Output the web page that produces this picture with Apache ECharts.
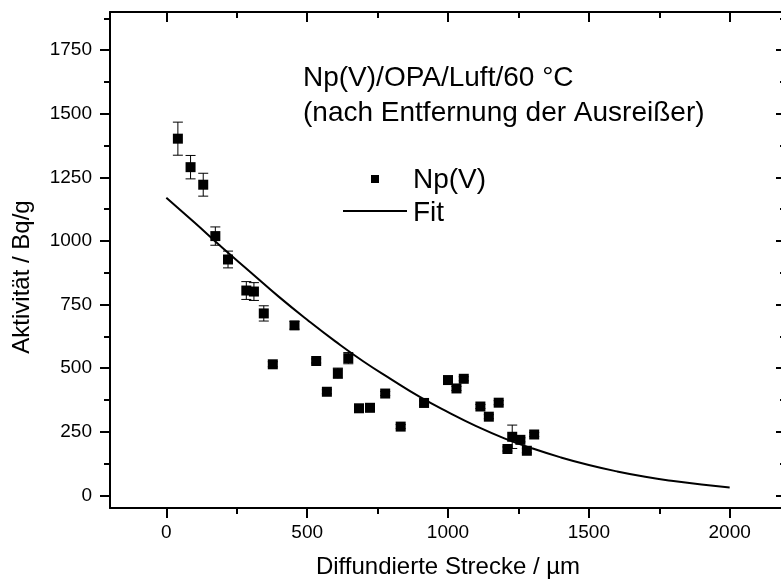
<!DOCTYPE html>
<html><head><meta charset="utf-8">
<script src="https://cdn.jsdelivr.net/npm/echarts@6/dist/echarts.min.js"></script>
<style>html,body{margin:0;padding:0;background:#fff}#c{width:781px;height:586px}</style>
</head><body><div id="c"></div>
<script>
// ---- data ----
const xMajorTicks = [0, 500, 1000, 1500, 2000];
const xMinorTicks = [250, 750, 1250, 1750];
const yMajorTicks = [0, 250, 500, 750, 1000, 1250, 1500, 1750];
const yMinorTicks = [125, 375, 625, 875, 1125, 1375, 1625, 1875];

const pointX   = [41, 86, 131, 174, 219, 284, 311, 346, 378, 455, 532, 570, 609, 646, 684, 723, 777, 832, 915, 1000, 1030, 1056, 1115, 1145, 1180, 1211, 1228, 1257, 1280, 1306];
const pointY   = [1402, 1290, 1221, 1019, 927, 805, 801, 715, 515, 668, 528, 407, 480, 539, 342, 344, 400, 270, 363, 453, 420, 458, 349, 309, 364, 182, 230, 218, 175, 239];
const pointErr = [65, 46, 45, 36, 33, 35, 35, 30, 10, 15, 8, 8, 20, 22, 8, 15, 8, 8, 8, 8, 8, 8, 8, 8, 8, 8, 46, 8, 8, 8];

const fitX = [0, 100, 200, 300, 400, 500, 600, 700, 800, 900, 1000, 1100, 1200, 1300, 1400, 1500, 1600, 1700, 1800, 1900, 2000];
const fitY = [1170, 1072, 972, 876, 780, 690, 605, 526, 455, 387, 327, 272, 224, 184, 149, 119, 94, 73, 56, 42, 31];

const titleLine1 = 'Np(V)/OPA/Luft/60 °C';
const titleLine2 = '(nach Entfernung der Ausreißer)';
const seriesName = 'Np(V)';
const fitName = 'Fit';
const xTitle = 'Diffundierte Strecke / µm';
const yTitle = 'Aktivität / Bq/g';

// ---- chart ----
const FONT = '"Liberation Sans", Arial, sans-serif';
const XMIN = -200, XMAX = 2200, YMIN = -50, YMAX = 1900;

function axis(kind, position, ticks, len, inside, showLabel, showLine) {
  return {
    type: 'value', position: position, min: kind === 'x' ? XMIN : YMIN, max: kind === 'x' ? XMAX : YMAX,
    axisLine: { show: showLine, onZero: false, lineStyle: { color: '#000', width: 2 } },
    axisTick: { show: true, inside: inside, length: len, customValues: ticks, lineStyle: { color: '#000', width: 2 } },
    axisLabel: showLabel ? {
      show: true, customValues: ticks, color: '#000', fontSize: 19, fontFamily: FONT,
      margin: kind === 'x' ? 15 : 18, formatter: function (v) { return String(v); }
    } : { show: false },
    splitLine: { show: false }, minorTick: { show: false }, minorSplitLine: { show: false }
  };
}

const chart = echarts.init(document.getElementById('c'), null, { renderer: 'canvas' });
chart.setOption({
  animation: false,
  backgroundColor: '#fff',
  grid: { left: 110, top: 12, width: 676, height: 496, containLabel: false, outerBoundsMode: 'none' },
  xAxis: [
    axis('x', 'bottom', xMajorTicks, 10, false, true, true),
    axis('x', 'bottom', xMinorTicks, 6, false, false, false),
    axis('x', 'top', xMajorTicks, 10, true, false, true),
    axis('x', 'top', xMinorTicks, 6, true, false, false)
  ],
  yAxis: [
    axis('y', 'left', yMajorTicks, 10, false, true, true),
    axis('y', 'left', yMinorTicks, 6, false, false, false),
    axis('y', 'right', yMajorTicks, 10, true, false, true),
    axis('y', 'right', yMinorTicks, 6, true, false, false)
  ],
  series: [
    {
      name: fitName, type: 'line', xAxisIndex: 0, yAxisIndex: 0,
      data: fitX.map((x, i) => [x, fitY[i]]), smooth: true, showSymbol: false, symbol: 'none',
      lineStyle: { color: '#000', width: 2 }, z: 2, silent: true
    },
    {
      name: 'err', type: 'custom', xAxisIndex: 0, yAxisIndex: 0,
      data: pointX.map((x, i) => [x, pointY[i], pointErr[i]]),
      renderItem: function (params, api) {
        const x = api.value(0), y = api.value(1), e = api.value(2);
        const t = api.coord([x, y + e]), b = api.coord([x, y - e]);
        const st = { stroke: '#000', lineWidth: 1 };
        return { type: 'group', children: [
          { type: 'line', shape: { x1: t[0], y1: t[1], x2: b[0], y2: b[1] }, style: st },
          { type: 'line', shape: { x1: t[0] - 5, y1: t[1], x2: t[0] + 5, y2: t[1] }, style: st },
          { type: 'line', shape: { x1: b[0] - 5, y1: b[1], x2: b[0] + 5, y2: b[1] }, style: st }
        ] };
      }, z: 3, silent: true
    },
    {
      name: seriesName, type: 'scatter', xAxisIndex: 0, yAxisIndex: 0,
      data: pointX.map((x, i) => [x, pointY[i]]), symbol: 'rect', symbolSize: 10,
      itemStyle: { color: '#000', opacity: 1 }, z: 4, silent: true
    }
  ],
  graphic: [
    { type: 'text', x: 303, y: 78, style: { text: titleLine1, font: '28px ' + FONT, fill: '#000', textAlign: 'left', textVerticalAlign: 'middle' } },
    { type: 'text', x: 303, y: 113, style: { text: titleLine2, font: '28px ' + FONT, fill: '#000', textAlign: 'left', textVerticalAlign: 'middle' } },
    { type: 'rect', shape: { x: 371, y: 175, width: 8, height: 8 }, style: { fill: '#000' } },
    { type: 'text', x: 413, y: 180, style: { text: seriesName, font: '28px ' + FONT, fill: '#000', textAlign: 'left', textVerticalAlign: 'middle' } },
    { type: 'line', shape: { x1: 343, y1: 211, x2: 407, y2: 211 }, style: { stroke: '#000', lineWidth: 2 } },
    { type: 'text', x: 413, y: 213, style: { text: fitName, font: '28px ' + FONT, fill: '#000', textAlign: 'left', textVerticalAlign: 'middle' } },
    { type: 'text', x: 448, y: 567, style: { text: xTitle, font: '24px ' + FONT, fill: '#000', textAlign: 'center', textVerticalAlign: 'middle' } },
    { type: 'text', x: 22, y: 277, rotation: Math.PI / 2, style: { text: yTitle, font: '24px ' + FONT, fill: '#000', textAlign: 'center', textVerticalAlign: 'middle' } }
  ]
});
</script>
</body></html>
